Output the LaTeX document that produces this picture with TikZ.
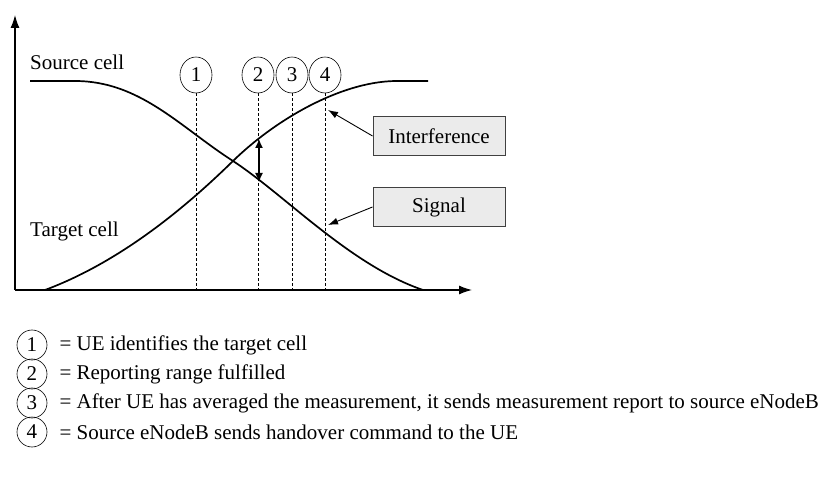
\documentclass[tikz,border=0pt]{standalone}
\usepackage{fontspec}
\setmainfont{Liberation Serif}
\usetikzlibrary{arrows.meta, positioning, shapes.geometric}

\begin{document}
\begin{tikzpicture}[x=1pt, y=-1pt,
        font=\fontsize{21}{25}\selectfont,
        curve/.style={line width=1.7pt},
        axis/.style={line width=1.2pt, -{Latex[length=13pt,width=9pt]}},
        marker/.style={draw, ellipse, line width=0.6pt, minimum width=32pt, minimum height=36pt, inner sep=0pt},
        legmark/.style={draw, ellipse, line width=0.6pt, minimum width=30pt, minimum height=30pt, inner sep=0pt},
        legtext/.style={inner sep=0pt, anchor=west},
        tag/.style={draw=black!75, fill=black!8, line width=1pt, minimum width=132pt, minimum height=39pt},
        guide/.style={densely dashed, line width=0.5pt},
        pointer/.style={line width=0.9pt, -{Latex[length=10pt,width=7pt]}}]
    \useasboundingbox (0,0) rectangle (825,481);
    % axes
    \coordinate (origin) at (15,290);
    \coordinate (ytip) at (15,15);
    \coordinate (xtip) at (472,290);
    \draw[axis] (origin) -- (ytip);
    \draw[axis] (origin) -- (xtip);
    % source and target cell levels
    \coordinate (cross) at (233,161);
    \draw[curve] (30,81) -- (75,81) .. controls (140,81) and (180,127) .. (cross)
        .. controls (285,195) and (350,265) .. (423,290);
    \draw[curve] (45,290) .. controls (120,262) and (185,208) .. (cross)
        .. controls (275,120) and (340,82) .. (395,81) -- (428,81);
    \node[anchor=base west, inner sep=0pt] (src) at (30,70) {Source cell};
    \node[anchor=base west, inner sep=0pt] (tgt) at (30,237) {Target cell};
    %
    \node[marker] (m1) at (196,75) {1};
    \node[marker] (m2) at (258,75) {2};
    \node[marker] (m3) at (292,75) {3};
    \node[marker] (m4) at (325,75) {4};
    \foreach \m in {m1, m2, m3, m4}
        \draw[guide] (\m) -- (\m |- origin);
    %
    \coordinate (gaptop) at (259,139);
    \coordinate (gapbot) at (259,182);
    \draw[line width=1.3pt, {Latex[length=9pt,width=8pt]}-{Latex[length=9pt,width=8pt]}] (gaptop) -- (gapbot);
    %
    \node[tag] (intf) at (439,136) {Interference};
    \node[tag] (sig) at (439,207) {Signal};
    \coordinate (intftip) at (328,110);
    \coordinate (sigtip) at (328,225);
    \draw[pointer] (intf.west) -- (intftip);
    \draw[pointer] (sig.west) -- (sigtip);
    % legend
    \foreach \i/\txt in {1/{= UE identifies the target cell},
                         2/{= Reporting range fulfilled},
                         3/{= After UE has averaged the measurement, it sends measurement report to source eNodeB},
                         4/{= Source eNodeB sends handover command to the UE}} {
        \node[legmark] (l\i) at (32,316+29*\i) {\i};
        \node[legtext, right=12pt of l\i] (d\i) {\txt};
    }
\end{tikzpicture}
\end{document}
